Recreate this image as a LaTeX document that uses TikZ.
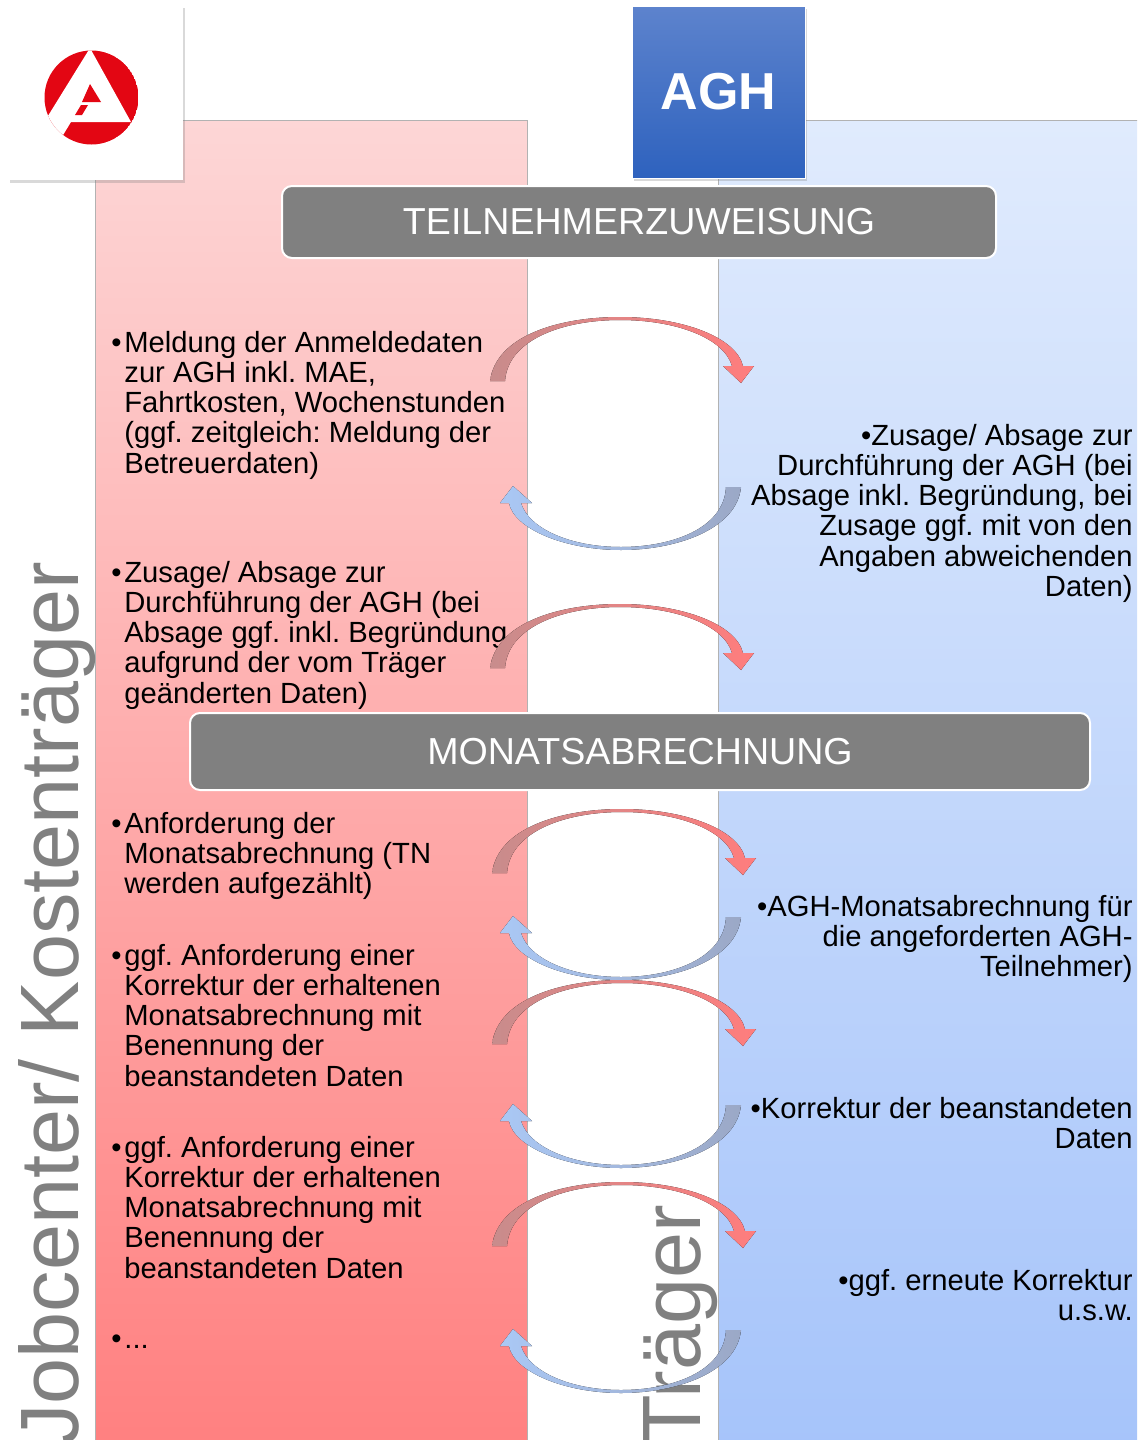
\documentclass[tikz,border=0pt]{standalone}
\usepackage{fontspec}
\setmainfont{Liberation Sans}
\usetikzlibrary{shadows}
\frenchspacing

\definecolor{jcoben}{RGB}{253,214,214}
\definecolor{jcunten}{RGB}{255,128,128}
\definecolor{troben}{RGB}{224,235,253}
\definecolor{trunten}{RGB}{166,196,250}
\definecolor{aghoben}{RGB}{93,131,205}
\definecolor{aghunten}{RGB}{46,98,190}
\definecolor{kopfgrau}{RGB}{128,128,128}
\definecolor{bared}{RGB}{227,6,19}

\newcommand{\jcpunkt}[1]{\makebox[6.5pt][l]{\textbullet}\begin{tabular}[t]{@{}l@{}}#1\end{tabular}}
\newcommand{\trpunkt}[1]{\begin{tabular}[t]{@{}r@{}}\textbullet#1\end{tabular}}

\newcommand{\hinpfeil}[2]{%
  \begin{scope}[shift={(#1,#2)}]
    \fill[hin] (-130,0) .. controls (-124,-45) and (-62,-64) .. (0,-64)
      .. controls (62,-64) and (116,-44) .. (123,-15) -- (134,-15) -- (121,2) -- (103,-15) -- (112,-15)
      .. controls (104,-43) and (56,-61) .. (0,-61) .. controls (-56,-61) and (-112,-42) .. (-115,0) -- cycle;
  \end{scope}}
\newcommand{\rueckpfeil}[2]{%
  \begin{scope}[shift={(#1,#2)}]
    \fill[rueck] (120,0) .. controls (116,42) and (56,63) .. (0,63)
      .. controls (-56,63) and (-107,42) .. (-112,16) -- (-121,16) -- (-108,-1) -- (-89,16) -- (-100,16)
      .. controls (-92,42) and (-50,60) .. (0,60) .. controls (50,60) and (103,42) .. (105,0) -- cycle;
  \end{scope}}

\begin{document}
\begin{tikzpicture}[x=0.5pt, y=-0.5pt,
  panel/.style={draw=gray!60, line width=0.5pt},
  seite/.style={text=kopfgrau, font=\fontsize{41.4}{48}\selectfont, inner sep=0pt, rotate=90, anchor=base west},
  phase/.style={fill=kopfgrau, draw=white, line width=1pt, rounded corners=5pt, text=white,
    font=\fontsize{18.8}{22}\selectfont, inner sep=0pt},
  punkt/.style={font=\fontsize{14.6}{15.15}\selectfont, inner sep=0pt},
  hin/.style={left color={rgb,255:red,200;green,140;blue,140}, middle color={rgb,255:red,245;green,205;blue,205},
    right color={rgb,255:red,255;green,125;blue,125}},
  rueck/.style={left color={rgb,255:red,170;green,200;blue,245}, middle color={rgb,255:red,185;green,200;blue,235},
    right color={rgb,255:red,155;green,168;blue,198}}]

\useasboundingbox (0,0) rectangle (1137,1440);
\clip (0,0) rectangle (1137,1440);

% Spalten
\draw[panel, top color=jcoben, bottom color=jcunten] (95,120) rectangle (527,1450);
\draw[panel, top color=troben, bottom color=trunten] (718,120) rectangle (1145,1450);

\node[seite] (kt) at (78,1446) {Jobcenter/ Kostenträger};
\node[seite] (tg) at (700,1446) {Träger};

% Logos
\node[fill=white, minimum size=87.5pt, drop shadow={shadow xshift=1pt, shadow yshift=-1.5pt, opacity=0.3}] (ba) at (95.5,92.5) {};
\begin{scope}
  \clip (91.5,97.5) circle[radius=47];
  \fill[bared] (91.5,97.5) circle[radius=47];
  \fill[white] (90,48) -- (131,122) -- (71,122) -- (57,145) -- (30,145) -- cycle;
  \fill[bared] (90,84) -- (101,102) -- (82,102) -- cycle;
  \fill[bared] (81,105) -- (88,105) -- (82,115) -- (75,115) -- cycle;
\end{scope}
\node[top color=aghoben, bottom color=aghunten, draw=white, line width=0.5pt, minimum width=86.5pt, minimum height=86pt,
  text=white, font=\fontsize{26}{30}\selectfont\bfseries,
  drop shadow={shadow xshift=1pt, shadow yshift=-1.5pt, opacity=0.3}] (agh) at (718.5,92) {AGH};

% Phasen
\node[phase, minimum width=357pt, minimum height=36pt] (tz) at (639,222) {TEILNEHMERZUWEISUNG};
\node[phase, minimum width=450pt, minimum height=38.5pt] (ma) at (640,751.5) {MONATSABRECHNUNG};

% Jobcenter
\node[punkt, anchor=base west] (jc1) at (111,352) {\jcpunkt{Meldung der Anmeldedaten\\zur AGH inkl. MAE,\\Fahrtkosten, Wochenstunden\\(ggf. zeitgleich: Meldung der\\Betreuerdaten)}};
\node[punkt, anchor=base west] (jc2) at (111,582) {\jcpunkt{Zusage/ Absage zur\\Durchführung der AGH (bei\\Absage ggf. inkl. Begründung\\aufgrund der vom Träger\\geänderten Daten)}};
\node[punkt, anchor=base west] (jc3) at (111,833) {\jcpunkt{Anforderung der\\Monatsabrechnung (TN\\werden aufgezählt)}};
\node[punkt, anchor=base west] (jc4) at (111,965) {\jcpunkt{ggf. Anforderung einer\\Korrektur der erhaltenen\\Monatsabrechnung mit\\Benennung der\\beanstandeten Daten}};
\node[punkt, anchor=base west] (jc5) at (111,1157) {\jcpunkt{ggf. Anforderung einer\\Korrektur der erhaltenen\\Monatsabrechnung mit\\Benennung der\\beanstandeten Daten}};
\node[punkt, anchor=base west] (jc6) at (111,1348) {\jcpunkt{...}};

% Traeger
\node[punkt, anchor=base east] (tr1) at (1133,445) {\trpunkt{Zusage/ Absage zur\\Durchführung der AGH (bei\\Absage inkl. Begründung, bei\\Zusage ggf. mit von den\\Angaben abweichenden\\Daten)}};
\node[punkt, anchor=base east] (tr2) at (1133,916) {\trpunkt{AGH-Monatsabrechnung für\\die angeforderten AGH-\\Teilnehmer)}};
\node[punkt, anchor=base east] (tr3) at (1133,1118) {\trpunkt{Korrektur der beanstandeten\\Daten}};
\node[punkt, anchor=base east] (tr4) at (1133,1290) {\trpunkt{ggf. erneute Korrektur\\u.s.w.}};

% Pfeile
\hinpfeil{620}{381}
\rueckpfeil{621}{487}
\hinpfeil{620}{668}
\hinpfeil{622}{873}
\rueckpfeil{621}{917}
\hinpfeil{622}{1044}
\rueckpfeil{621}{1105}
\hinpfeil{622}{1246}
\rueckpfeil{621}{1330}

\end{tikzpicture}
\end{document}
